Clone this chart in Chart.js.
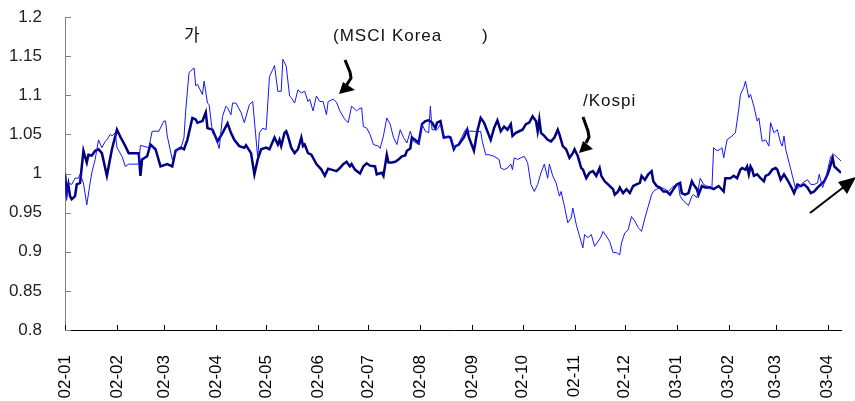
<!DOCTYPE html>
<html>
<head>
<meta charset="utf-8">
<script src="https://cdn.jsdelivr.net/npm/chart.js@4/dist/chart.umd.min.js"></script>
<style>
  body { margin: 0; background: #fff; }
  #wrap { width: 855px; height: 401px; }
</style>
</head>
<body>
<div id="wrap"><canvas id="myChart" width="855" height="401"></canvas></div>
<script>
// month ticks (days counted from 2002-01-01)
const monthLabels = ['02-01', '02-02', '02-03', '02-04', '02-05', '02-06', '02-07', '02-08',
  '02-09', '02-10', '02-11', '02-12', '03-01', '03-02', '03-03', '03-04']
const monthDays = [0, 31, 59, 90, 120, 151, 181, 212, 243, 273, 304, 334, 365, 396, 424, 455]
const lastDay = 463

const yTickLabels = ['0.8', '0.85', '0.9', '0.95', '1', '1.05', '1.1', '1.15', '1.2']

// [day, value] - thick navy line (/Kospi)
const kospiRel = [
  [0,1.000],[1,0.975],[2,0.986],[3,0.971],[4,0.967],[6,0.971],[7,0.986],[9,0.988],[11,1.029],[13,1.014],
  [14,1.024],[16,1.023],[18,1.029],[20,1.031],[22,1.026],[25,0.997],[28,1.031],[31,1.056],[33,1.047],[36,1.035],
  [38,1.026],[44,1.026],[45,0.997],[46,1.018],[49,1.022],[51,1.037],[54,1.031],[57,1.009],[61,1.012],[64,1.009],
  [66,1.029],[69,1.033],[71,1.031],[73,1.043],[76,1.071],[78,1.069],[79,1.065],[82,1.067],[84,1.078],[85,1.058],
  [88,1.056],[91,1.041],[94,1.052],[97,1.064],[99,1.052],[101,1.043],[104,1.035],[107,1.033],[108,1.036],[111,1.026],
  [113,0.999],[115,1.018],[117,1.031],[120,1.033],[122,1.031],[125,1.046],[127,1.037],[128,1.043],[129,1.035],[131,1.052],
  [132,1.054],[133,1.048],[135,1.033],[137,1.026],[139,1.031],[141,1.046],[142,1.035],[143,1.037],[145,1.026],[147,1.024],
  [150,1.012],[153,1.005],[155,0.997],[157,1.006],[159,1.005],[162,1.003],[164,1.007],[166,1.012],[168,1.015],[170,1.009],
  [171,1.012],[173,1.005],[176,1.000],[178,1.009],[180,1.013],[182,1.010],[185,1.009],[186,0.999],[189,1.001],[190,0.997],
  [192,1.024],[193,1.014],[195,1.014],[197,1.015],[199,1.018],[201,1.022],[203,1.023],[204,1.029],[206,1.032],[207,1.046],
  [209,1.043],[211,1.039],[213,1.063],[215,1.067],[217,1.068],[219,1.065],[221,1.058],[222,1.065],[224,1.067],[226,1.046],
  [229,1.047],[230,1.046],[232,1.031],[233,1.035],[235,1.037],[238,1.046],[240,1.056],[241,1.046],[244,1.029],[246,1.054],
  [248,1.071],[250,1.065],[252,1.054],[254,1.043],[256,1.058],[258,1.068],[260,1.054],[262,1.060],[264,1.056],[266,1.063],
  [267,1.048],[269,1.052],[271,1.054],[273,1.056],[275,1.063],[277,1.065],[279,1.073],[281,1.067],[282,1.054],[283,1.069],
  [284,1.052],[286,1.048],[288,1.043],[290,1.041],[292,1.046],[294,1.056],[295,1.050],[297,1.035],[299,1.031],[301,1.020],
  [303,1.026],[304,1.031],[306,1.022],[308,1.007],[309,1.005],[311,0.994],[313,1.001],[315,1.003],[317,0.997],[319,1.007],
  [320,0.997],[322,0.990],[324,0.986],[326,0.982],[327,0.980],[328,0.973],[330,0.977],[331,0.982],[333,0.975],[335,0.980],
  [337,0.975],[339,0.984],[341,0.986],[343,0.988],[344,0.997],[346,0.992],[348,0.999],[350,1.003],[351,0.990],[353,0.984],
  [355,0.982],[357,0.977],[359,0.977],[361,0.973],[363,0.980],[365,0.986],[367,0.988],[368,0.975],[370,0.973],[372,0.975],
  [374,0.990],[375,0.986],[377,0.980],[378,0.973],[380,0.984],[382,0.982],[385,0.982],[387,0.980],[390,0.984],[393,0.977],
  [394,0.994],[397,0.994],[399,0.997],[401,0.994],[403,1.005],[404,1.007],[406,1.005],[407,1.009],[408,0.999],[409,1.009],
  [410,1.005],[411,0.997],[413,0.999],[415,0.994],[417,0.990],[418,0.997],[420,0.999],[422,1.005],[424,1.007],[425,1.005],
  [427,0.992],[429,0.999],[431,0.992],[433,0.984],[435,0.975],[437,0.986],[439,0.984],[441,0.986],[443,0.982],[445,0.975],
  [447,0.977],[449,0.982],[451,0.986],[453,0.990],[455,0.999],[456,1.005],[458,1.020],[459,1.009],[460,1.007],[462,1.003],
  [463,1.001]
]

// [day, value] - thin blue line (MSCI Korea)
const msciRel = [
  [0,1.000],[1,0.967],[2,0.988],[4,0.986],[6,0.994],[8,0.994],[9,0.999],[11,0.988],[13,0.960],[15,0.988],
  [16,1.001],[18,1.018],[20,1.043],[22,1.033],[24,1.041],[25,1.043],[27,1.050],[28,1.048],[30,1.052],[31,1.033],
  [34,1.022],[36,1.009],[38,1.012],[44,1.012],[45,1.036],[50,1.033],[52,1.054],[56,1.054],[59,1.067],[60,1.067],
  [61,1.048],[64,1.018],[67,1.032],[69,1.031],[71,1.046],[72,1.080],[74,1.129],[77,1.135],[78,1.112],[79,1.114],
  [82,1.101],[83,1.118],[85,1.090],[86,1.088],[88,1.052],[90,1.046],[92,1.032],[94,1.073],[96,1.086],[97,1.084],
  [99,1.075],[100,1.090],[102,1.090],[105,1.078],[107,1.065],[110,1.088],[112,1.092],[115,1.020],[116,1.052],[118,1.058],
  [120,1.056],[122,1.124],[124,1.133],[125,1.138],[127,1.105],[129,1.105],[130,1.146],[132,1.137],[134,1.099],[135,1.097],
  [137,1.090],[139,1.107],[141,1.103],[143,1.105],[145,1.092],[146,1.095],[148,1.080],[150,1.099],[152,1.092],[154,1.092],
  [156,1.075],[157,1.092],[160,1.095],[162,1.091],[164,1.080],[167,1.069],[169,1.065],[171,1.086],[174,1.080],[175,1.082],
  [177,1.084],[178,1.060],[180,1.058],[182,1.050],[184,1.037],[187,1.035],[188,1.032],[190,1.048],[192,1.071],[194,1.063],
  [196,1.046],[198,1.037],[200,1.056],[202,1.046],[204,1.039],[206,1.054],[208,1.041],[211,1.037],[213,1.063],[215,1.054],
  [217,1.052],[218,1.086],[219,1.056],[222,1.056],[224,1.063],[226,1.048],[229,1.046],[231,1.043],[232,1.031],[235,1.039],
  [239,1.056],[241,1.054],[244,1.054],[246,1.053],[248,1.054],[249,1.041],[251,1.024],[253,1.024],[256,1.022],[259,1.018],
  [260,1.007],[262,1.005],[264,1.007],[266,1.012],[267,1.005],[268,1.020],[270,1.018],[272,1.020],[274,1.022],[276,1.014],
  [278,0.986],[280,0.977],[282,0.986],[284,1.001],[286,1.012],[288,0.994],[289,1.012],[291,0.997],[293,0.988],[295,0.971],
  [296,0.977],[298,0.958],[300,0.937],[302,0.943],[303,0.956],[305,0.935],[307,0.920],[309,0.905],[310,0.922],[312,0.918],
  [314,0.922],[316,0.907],[318,0.913],[320,0.920],[321,0.926],[323,0.920],[325,0.913],[327,0.899],[329,0.899],[331,0.896],
  [332,0.911],[334,0.924],[336,0.928],[338,0.945],[340,0.939],[342,0.931],[344,0.926],[346,0.943],[348,0.958],[350,0.973],
  [351,0.977],[353,0.980],[356,0.982],[358,0.980],[360,0.977],[362,0.982],[364,0.985],[366,0.986],[367,0.971],[369,0.965],
  [372,0.959],[374,0.971],[375,0.973],[377,0.969],[379,0.994],[381,0.986],[383,0.984],[386,0.982],[387,1.033],[389,1.029],
  [391,1.031],[392,1.033],[393,1.020],[395,1.043],[398,1.048],[400,1.052],[402,1.082],[403,1.101],[405,1.110],[406,1.118],
  [408,1.097],[409,1.101],[411,1.086],[413,1.067],[414,1.071],[416,1.041],[418,1.043],[420,1.035],[421,1.065],[423,1.052],
  [425,1.056],[427,1.039],[428,1.035],[429,1.048],[430,1.031],[432,1.014],[434,0.997],[436,0.980],[438,0.982],[440,0.988],
  [443,0.992],[445,0.986],[447,0.986],[449,0.988],[450,0.999],[452,0.982],[454,0.994],[456,1.014],[457,1.022],[459,1.024],
  [461,1.020],[463,1.016]
]

const ctx = document.getElementById('myChart')
const labelFont = { family: "'Liberation Sans', Arial, sans-serif", size: 17 }

// inward tick marks + the text / arrows written on the chart
const decorations = {
  id: 'decorations',
  afterDraw(chart) {
    const c = chart.ctx
    const { left, bottom } = chart.chartArea
    const xs = chart.scales.x
    const ys = chart.scales.y

    c.save()
    c.lineWidth = 1
    c.strokeStyle = '#808080'
    ys.ticks.forEach(t => {
      const py = Math.round(ys.getPixelForValue(t.value)) + 0.5
      c.beginPath(); c.moveTo(left, py); c.lineTo(left + 6, py); c.stroke()
    })
    c.strokeStyle = '#000'
    xs.ticks.forEach(t => {
      const px = Math.round(xs.getPixelForValue(t.value)) + 0.5
      c.beginPath(); c.moveTo(px, bottom); c.lineTo(px, bottom - 5); c.stroke()
    })

    c.fillStyle = '#111'
    c.textBaseline = 'alphabetic'
    c.font = "17px 'Liberation Sans', Arial, 'Noto Sans CJK KR', sans-serif"
    c.fillText('가', 184, 41)
    c.letterSpacing = '1px'
    c.fillText('(MSCI Korea', 333, 41)
    c.fillText(')', 482, 41)
    c.fillText('/Kospi', 583, 106)
    c.letterSpacing = '0px'

    // curved arrows
    c.strokeStyle = '#000'
    c.fillStyle = '#000'
    c.lineWidth = 3
    c.lineJoin = 'round'
    c.beginPath(); c.moveTo(345, 60); c.lineTo(350, 72); c.lineTo(351, 78); c.lineTo(346, 86); c.stroke()
    c.beginPath(); c.moveTo(339, 94); c.lineTo(343, 82); c.lineTo(355, 90); c.closePath(); c.fill()

    c.beginPath(); c.moveTo(583, 117); c.lineTo(588, 131); c.lineTo(589, 137); c.lineTo(586, 143); c.stroke()
    c.beginPath(); c.moveTo(579, 153); c.lineTo(583, 141); c.lineTo(593, 149); c.closePath(); c.fill()

    // straight arrow bottom right
    c.lineWidth = 2
    c.beginPath(); c.moveTo(810, 213); c.lineTo(845, 186); c.stroke()
    c.beginPath(); c.moveTo(856, 177); c.lineTo(838, 182); c.lineTo(847, 194); c.closePath(); c.fill()
    c.restore()
  }
}

new Chart(ctx, {
  type: 'line',
  data: {
    datasets: [
      {
        label: 'MSCI Korea',
        data: msciRel.map(p => ({ x: p[0], y: p[1] })),
        borderColor: '#1515ff',
        borderWidth: 1,
        pointRadius: 0,
        tension: 0,
        order: 0
      },
      {
        label: 'Kospi',
        data: kospiRel.map(p => ({ x: p[0], y: p[1] })),
        borderColor: '#000080',
        borderWidth: 2.5,
        pointRadius: 0,
        tension: 0,
        order: 1
      }
    ]
  },
  options: {
    responsive: false,
    animation: false,
    layout: { padding: { top: 17, right: 14, left: 0, bottom: 0 } },
    plugins: { legend: { display: false }, tooltip: { enabled: false } },
    scales: {
      x: {
        type: 'linear',
        min: 0,
        max: lastDay,
        afterBuildTicks: scale => { scale.ticks = monthDays.map(v => ({ value: v })) },
        afterFit: scale => {
          scale.height = 71
          scale.paddingLeft = 0
          scale.paddingRight = 0
        },
        grid: { display: false },
        border: { display: true, color: '#000', width: 1 },
        ticks: {
          autoSkip: false,
          minRotation: 90,
          maxRotation: 90,
          padding: 17,
          color: '#000',
          font: labelFont,
          callback: v => monthLabels[monthDays.indexOf(v)]
        }
      },
      y: {
        min: 0.8,
        max: 1.2,
        afterBuildTicks: scale => { scale.ticks = yTickLabels.map(v => ({ value: Number(v) })) },
        afterFit: scale => {
          scale.width = 65
          scale.paddingTop = 0
          scale.paddingBottom = 0
        },
        grid: { display: false },
        border: { display: true, color: '#808080', width: 1 },
        ticks: {
          padding: 15,
          color: '#222',
          font: labelFont,
          callback: v => yTickLabels.find(s => Number(s) === v)
        }
      }
    }
  },
  plugins: [decorations]
})
</script>
</body>
</html>
